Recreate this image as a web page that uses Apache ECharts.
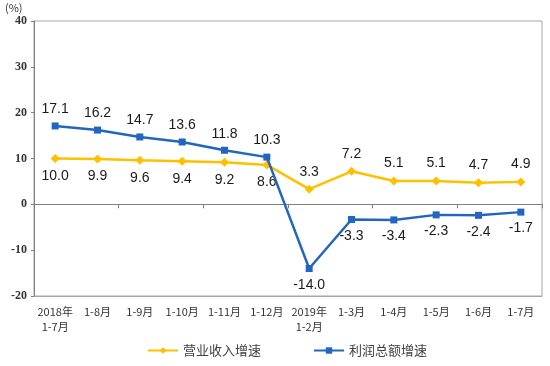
<!DOCTYPE html>
<html><head><meta charset="utf-8">
<script src="https://cdn.jsdelivr.net/npm/echarts@6/dist/echarts.min.js"></script>
<style>html,body{margin:0;padding:0;background:#fff}#c{width:550px;height:366px}</style>
</head><body><div id="c"></div>
<script>
var categories = ['2018年\n1-7月','1-8月','1-9月','1-10月','1-11月','1-12月','2019年\n1-2月','1-3月','1-4月','1-5月','1-6月','1-7月'];
var revenueName = '营业收入增速';
var profitName = '利润总额增速';
var revenue = [10.0, 9.9, 9.6, 9.4, 9.2, 8.6, 3.3, 7.2, 5.1, 5.1, 4.7, 4.9];
var profit = [17.1, 16.2, 14.7, 13.6, 11.8, 10.3, -14.0, -3.3, -3.4, -2.3, -2.4, -1.7];
var yTicks = [-20, -10, 0, 10, 20, 30, 40];

var chart = echarts.init(document.getElementById('c'));
var labelFont = {fontFamily: 'Liberation Sans', fontSize: 14, color: '#1a1a1a'};
chart.setOption({
  animation: false,
  grid: {left: 34, right: 8, top: 21, bottom: 70, show: true, borderColor: '#A6A6A6', borderWidth: 1},
  graphic: [{type: 'text', left: 5, top: 2, style: {text: '(%)', fontSize: 11, fontFamily: 'Noto Sans CJK SC', fill: '#333'}}],
  legend: {
    bottom: 4, left: 142, itemGap: 52, itemWidth: 30, itemHeight: 8,
    textStyle: {fontSize: 13, fontFamily: 'Noto Sans CJK SC', color: '#404040'},
    data: [revenueName, profitName]
  },
  xAxis: [{
    type: 'category', data: categories, boundaryGap: true,
    axisLine: {onZero: false, lineStyle: {color: '#A6A6A6'}},
    axisTick: {show: false},
    axisLabel: {interval: 0, fontSize: 11, fontFamily: 'Noto Sans CJK SC', color: '#333', lineHeight: 15, margin: 8}
  }, {
    type: 'category', data: categories, boundaryGap: true, position: 'bottom',
    axisLine: {onZero: true, lineStyle: {color: '#7F7F7F'}},
    axisTick: {show: true, length: 4, inside: false, lineStyle: {color: '#7F7F7F'}},
    axisLabel: {show: false}
  }],
  yAxis: {
    type: 'value', min: yTicks[0], max: yTicks[yTicks.length - 1], interval: 10,
    splitLine: {show: false},
    axisLine: {show: true, lineStyle: {color: '#7F7F7F'}},
    axisTick: {show: true, length: 3, lineStyle: {color: '#7F7F7F'}},
    axisLabel: {fontSize: 12, fontWeight: 'bold', fontFamily: 'Liberation Serif', color: '#333', margin: 7}
  },
  series: [{
    name: revenueName, type: 'line', data: revenue.map(function (v, i) {
      return {value: v, label: {position: i < 6 ? 'bottom' : 'top'}};
    }),
    symbol: 'diamond', symbolSize: 9,
    itemStyle: {color: '#FFC000'}, lineStyle: {color: '#FFC000', width: 2.5},
    label: Object.assign({show: true, distance: 6, formatter: function (p) { return p.value.toFixed(1); }}, labelFont),
    z: 3
  }, {
    name: profitName, type: 'line', data: profit.map(function (v) {
      return {value: v, label: {position: v >= 0 ? 'top' : 'bottom'}};
    }),
    symbol: 'rect', symbolSize: 7,
    itemStyle: {color: '#2266C0'}, lineStyle: {color: '#2266C0', width: 2.5},
    label: Object.assign({show: true, distance: 6, formatter: function (p) { return p.value.toFixed(1); }}, labelFont),
    z: 4
  }]
});
</script></body></html>
